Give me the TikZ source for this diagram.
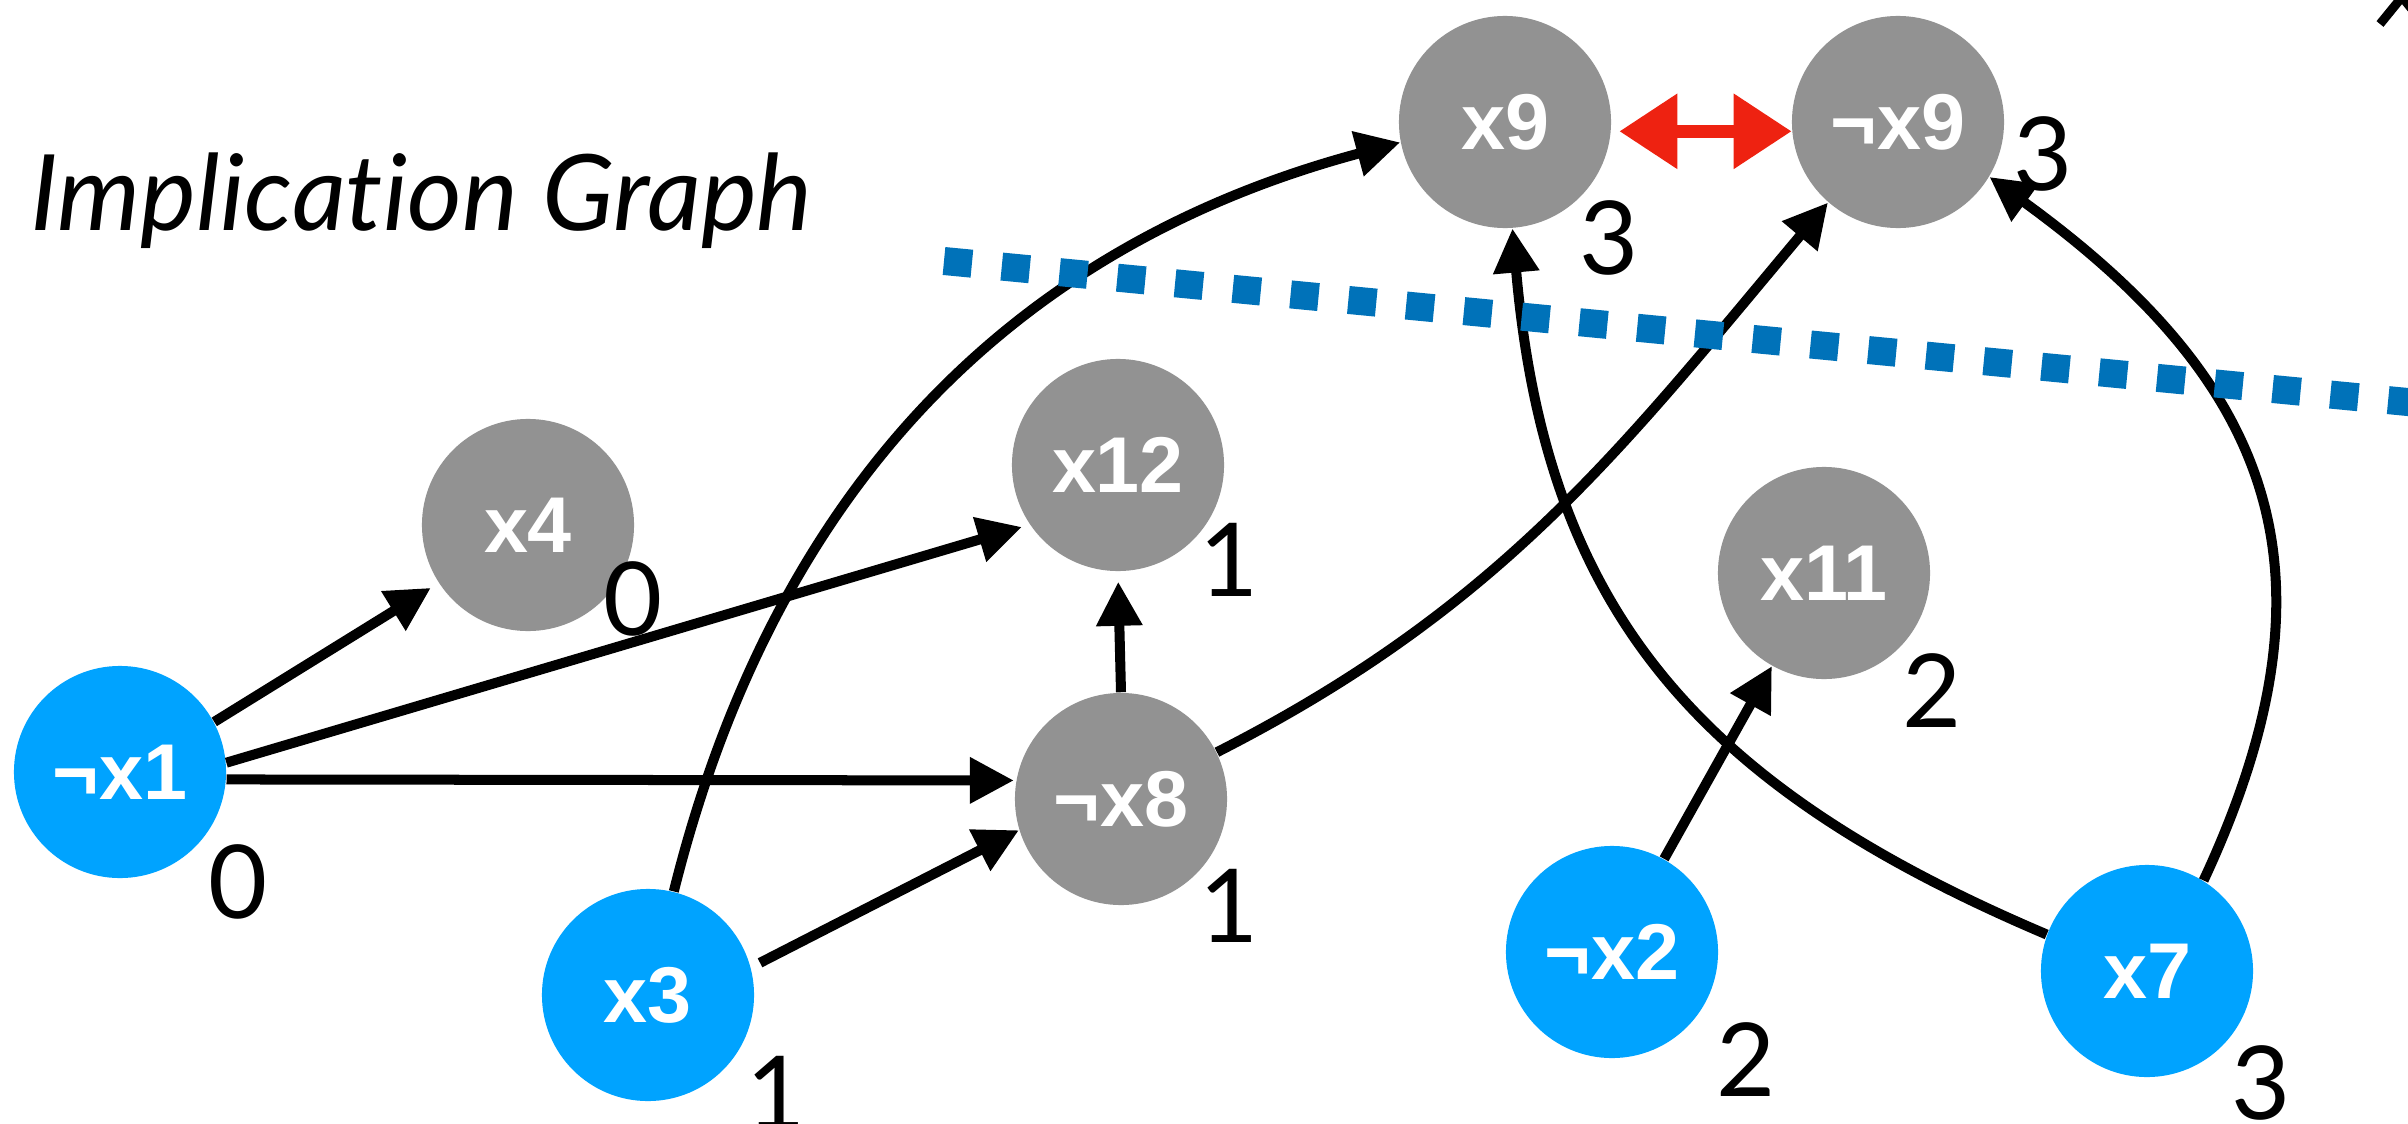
\documentclass[tikz,border=0pt]{standalone}
\usepackage{fontspec}
\setmainfont{Lato}[Ligatures=NoCommon]
\newfontfamily\litfont{Liberation Sans}
\usetikzlibrary{arrows.meta, positioning, calc}
\definecolor{decided}{HTML}{00A3FF}
\definecolor{implied}{HTML}{929292}
\definecolor{cutblue}{HTML}{0072B9}
\definecolor{conflictred}{HTML}{EE2211}

\begin{document}
\begin{tikzpicture}[
    x=0.01cm, y=-0.01cm,
    lit/.style={circle, fill=#1, minimum size=2.12cm, inner sep=0pt, text=white,
        font=\litfont\fontsize{22.5}{24}\selectfont\bfseries},
    lvl/.style={font=\fontsize{29}{30}\selectfont, inner sep=0pt},
    imp/.style={-{Triangle[length=0.44cm, width=0.44cm]}, line width=0.1cm, black},
    conflict/.style={{Triangle[length=0.58cm, width=0.72cm]}-{Triangle[length=0.58cm, width=0.72cm]},
        line width=0.13cm, conflictred},
    cut/.style={cutblue, line width=0.28cm, dash pattern=on 0.28cm off 0.3cm}
]
\clip (0,0) rectangle (2408,1124);

\node[anchor=base west, font=\fontsize{30}{32}\selectfont\itshape] (title) at (18,230) {Implication Graph};

% decisions
\node[lit=decided] (nx1) at (120,772) {¬x1};
\node[lit=decided] (x3) at (648,995) {x3};
\node[lit=decided] (nx2) at (1612,952) {¬x2};
\node[lit=decided] (x7) at (2147,971) {x7};

% implied literals
\node[lit=implied] (x4) at (528,525) {x4};
\node[lit=implied] (x12) at (1118,465) {x12};
\node[lit=implied] (nx8) at (1121,799) {¬x8};
\node[lit=implied] (x9) at (1505,122) {x9};
\node[lit=implied] (nx9) at (1898,122) {¬x9};
\node[lit=implied] (x11) at (1824,573) {x11};

% decision levels
\node[lvl] (l1) at (238,882) {0};
\node[lvl] (l4) at (633,599) {0};
\node[lvl] (l3) at (776,1093) {1};
\node[lvl] (l8) at (1229,906) {1};
\node[lvl] (l12) at (1229,560) {1};
\node[lvl] (l9) at (1609,238) {3};
\node[lvl] (ln9) at (2043,154) {3};
\node[lvl] (l11) at (1932,691) {2};
\node[lvl] (ln2) at (1746,1060) {2};
\node[lvl] (l7) at (2261,1083) {3};

% implications
\draw[imp, shorten >=0.09cm] (nx1.28) -- (x4.213);
\draw[imp, shorten >=0.08cm] (nx1.5) -- (x12.214);
\draw[imp, shorten >=0.02cm] (nx1.-4) -- (nx8.170);
\draw[imp, shorten <=0.1cm] (x3.15) -- (nx8.197);
\draw[imp, shorten >=0.1cm] (nx8.north) -- (x12.south);
\draw[imp] (nx2) -- (x11);
\draw[imp] (x3.76) to[out=76, in=-165] (x9.191);
\draw[imp] (nx8.26) to[out=27, in=-130] (nx9.229);
\draw[imp] (x7.160) to[out=157, in=-85, looseness=1.1] (x9.-86);
\draw[imp] (x7.58) to[out=65, in=-36, looseness=1.2] (nx9.329);

% conflict
\draw[conflict, shorten <=0.08cm] (x9.-5) -- (nx9.185);

% cut
\coordinate (cutL) at (944,261);
\coordinate (cutR) at (2470,408);
\draw[cut] (cutL) -- (cutR);

\draw[line width=0.09cm] (2380,24) -- (2402,-3) -- (2424,24);

\end{tikzpicture}
\end{document}
